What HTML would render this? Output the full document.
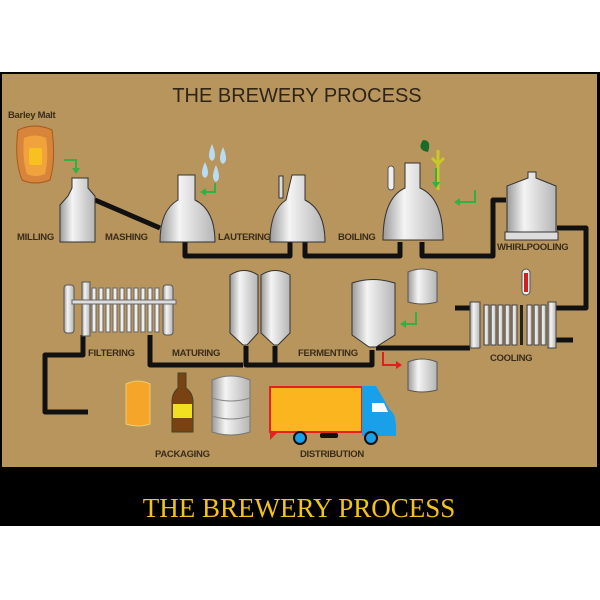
<!DOCTYPE html>
<html><head><meta charset="utf-8"><style>
html,body{margin:0;padding:0;background:#fff;width:600px;height:600px;overflow:hidden}
svg{display:block}
.l{font-family:"Liberation Sans",sans-serif;font-weight:bold;font-size:9.5px;fill:#3a2c1c;letter-spacing:-0.3px}
</style></head><body>
<svg width="600" height="600" viewBox="0 0 600 600" xmlns="http://www.w3.org/2000/svg">
<defs>
<linearGradient id="m" x1="0" x2="1"><stop offset="0" stop-color="#9a9a9a"/><stop offset="0.35" stop-color="#f4f4f4"/><stop offset="1" stop-color="#b5b5b5"/></linearGradient>
</defs>
<rect x="0" y="72" width="600" height="396" fill="#000"/>
<rect x="2" y="74" width="595" height="393" fill="#b8955c"/>
<rect x="0" y="467" width="600" height="59" fill="#000"/>
<text x="299" y="517" text-anchor="middle" font-family="Liberation Serif,serif" font-size="27" fill="#f2c419">THE BREWERY PROCESS</text>
<text x="297" y="102" text-anchor="middle" font-family="Liberation Sans,sans-serif" font-size="20" fill="#2e2418">THE BREWERY PROCESS</text>

<g fill="none" stroke="#111" stroke-width="5" stroke-linejoin="round">
<path d="M95 200 L160 228"/>
<path d="M185 242 V256 H290 V242"/>
<path d="M305 242 V256 H400 V242"/>
<path d="M422 242 V256 H493 V200 H506"/>
<path d="M557 228 H586 V308 H556"/>
<path d="M470 308 H455"/>
<path d="M555 340 H573"/>
<path d="M470 348 H376"/>
<path d="M372 350 V365 H246 V346"/>
<path d="M275 346 V365"/>
<path d="M150 335 V365 H243"/>
<path d="M83 335 V355 H45 V412 H88"/>
</g>

<text x="8" y="118" class="l" font-size="9">Barley Malt</text>
<path d="M18 130 Q14 160 22 180 Q35 186 50 180 Q56 160 52 130 Q35 122 18 130Z" fill="#d8843a" stroke="#a65a20"/>
<path d="M24 138 Q22 160 27 174 Q35 178 45 174 Q49 158 46 138 Q35 133 24 138Z" fill="#f0a23c"/>
<rect x="29" y="148" width="13" height="17" rx="2" fill="#f8c020"/>
<path d="M64 160 H76 V170" fill="none" stroke="#33b040" stroke-width="2"/><path d="M72 168 L76 174 L80 168Z" fill="#33b040"/>

<path d="M72 178 H88 V188 L95 196 V242 H60 V205 L68 196 L72 188Z" fill="url(#m)" stroke="#333"/>
<text x="17" y="240" class="l">MILLING</text>
<text x="105" y="240" class="l">MASHING</text>
<path d="M178 175 H195 V200 Q215 210 215 242 H160 Q160 210 178 200Z" fill="url(#m)" stroke="#333"/>
<path d="M212 144 Q206 158 212 161 Q218 158 212 144Z M223 147 Q217 161 223 164 Q229 161 223 147Z M205 162 Q199 175 205 178 Q211 175 205 162Z M216 165 Q210 179 216 182 Q222 179 216 165Z" fill="#b8dcf2"/>
<path d="M215 183 V192 H204" fill="none" stroke="#33b040" stroke-width="2"/><path d="M206 188 L200 192 L206 196Z" fill="#33b040"/>
<text x="218" y="240" class="l">LAUTERING</text>
<rect x="279" y="176" width="4" height="22" fill="#ddd" stroke="#333"/>
<path d="M292 175 H305 V200 Q325 210 325 242 H270 Q270 210 286 200Z" fill="url(#m)" stroke="#333"/>
<text x="338" y="240" class="l">BOILING</text>
<rect x="388" y="166" width="6" height="24" rx="3" fill="#eee" stroke="#555"/>
<path d="M405 163 H420 V188 Q443 198 443 240 H383 Q383 198 405 188Z" fill="url(#m)" stroke="#333"/>
<path d="M423 140 Q416 150 428 152 Q432 140 423 140Z" fill="#1a6a2a"/>
<path d="M438 150 V190 M432 158 L438 164 L444 158" stroke="#c8c828" stroke-width="3" fill="none"/>
<path d="M436 168 V182" stroke="#33b040" stroke-width="2"/><path d="M432 182 L436 188 L440 182Z" fill="#33b040"/>
<path d="M475 190 V202 H458" fill="none" stroke="#33b040" stroke-width="2"/><path d="M460 198 L454 202 L460 206Z" fill="#33b040"/>
<path d="M528 172 H536 V178 L556 186 V232 H507 V186 L528 178Z" fill="url(#m)" stroke="#333"/>
<rect x="505" y="232" width="53" height="8" fill="#ddd" stroke="#333"/>
<text x="497" y="250" class="l">WHIRLPOOLING</text>

<rect x="522" y="269" width="8" height="26" rx="4" fill="#eee" stroke="#555"/><rect x="524" y="273" width="4" height="19" fill="#d02020"/>
<rect x="470" y="302" width="10" height="46" fill="url(#m)" stroke="#444"/>
<g fill="url(#m)" stroke="#444"><rect x="484" y="305" width="5" height="40"/><rect x="491" y="305" width="5" height="40"/><rect x="498" y="305" width="5" height="40"/><rect x="505" y="305" width="5" height="40"/><rect x="512" y="305" width="5" height="40"/><rect x="527" y="305" width="5" height="40"/><rect x="534" y="305" width="5" height="40"/><rect x="541" y="305" width="5" height="40"/></g>
<rect x="548" y="302" width="8" height="46" fill="url(#m)" stroke="#444"/>
<rect x="520" y="305" width="3" height="40" fill="#222"/>
<text x="490" y="361" class="l">COOLING</text>

<path d="M352 283 Q373 276 395 283 V335 L376 347 H369 L352 335Z" fill="url(#m)" stroke="#333"/>
<path d="M408 272 Q422 266 437 272 V302 Q422 306 408 302Z" fill="url(#m)" stroke="#555"/>
<path d="M408 362 Q422 356 437 362 V390 Q422 394 408 390Z" fill="url(#m)" stroke="#555"/>
<path d="M416 312 V324 H404" fill="none" stroke="#33b040" stroke-width="2"/><path d="M406 320 L400 324 L406 328Z" fill="#33b040"/>
<path d="M383 352 V365 H398" fill="none" stroke="#e02020" stroke-width="2"/><path d="M396 361 L402 365 L396 369Z" fill="#e02020"/>
<text x="298" y="356" class="l">FERMENTING</text>

<path d="M230 275 Q244 266 258 275 V333 L247 345 H243 L230 333Z" fill="url(#m)" stroke="#333"/>
<path d="M261 275 Q275 266 290 275 V333 L278 345 H274 L261 333Z" fill="url(#m)" stroke="#333"/>
<text x="172" y="356" class="l">MATURING</text>

<rect x="64" y="285" width="10" height="48" rx="3" fill="url(#m)" stroke="#555"/>
<rect x="82" y="282" width="8" height="54" fill="url(#m)" stroke="#555"/>
<g fill="#eee" stroke="#666"><rect x="92" y="288" width="4" height="44"/><rect x="99" y="288" width="4" height="44"/><rect x="106" y="288" width="4" height="44"/><rect x="113" y="288" width="4" height="44"/><rect x="120" y="288" width="4" height="44"/><rect x="127" y="288" width="4" height="44"/><rect x="134" y="288" width="4" height="44"/><rect x="141" y="288" width="4" height="44"/><rect x="148" y="288" width="4" height="44"/><rect x="155" y="288" width="4" height="44"/></g>
<rect x="163" y="285" width="10" height="50" rx="3" fill="url(#m)" stroke="#555"/>
<rect x="72" y="300" width="104" height="4" fill="#ddd" stroke="#666"/>
<text x="88" y="356" class="l">FILTERING</text>

<path d="M126 384 Q138 378 150 384 V424 Q138 428 126 424Z" fill="#f5a52a" stroke="#e8d070"/>
<path d="M178 373 H186 V388 Q193 393 193 402 V432 H172 V402 Q172 393 178 388Z" fill="#7a4212" stroke="#442"/>
<rect x="173" y="404" width="19" height="14" fill="#f0e020"/>
<path d="M212 380 Q231 372 250 380 V432 Q231 438 212 432Z" fill="url(#m)" stroke="#777"/>
<path d="M212 398 Q231 404 250 398 M212 416 Q231 422 250 416" fill="none" stroke="#888"/>
<text x="155" y="457" class="l">PACKAGING</text>

<rect x="270" y="387" width="92" height="45" fill="#fbb51e" stroke="#e02424" stroke-width="2"/>
<path d="M270 432 L270 440 L278 432Z" fill="#e02424"/>
<path d="M362 386 H376 L390 410 Q396 414 396 428 V436 H362Z" fill="#1aa0e8"/>
<path d="M372 403 H384 L388 412 H372Z" fill="#fff"/>
<rect x="320" y="433" width="18" height="5" rx="2" fill="#111"/>
<circle cx="300" cy="438" r="6" fill="#1aa0e8" stroke="#111" stroke-width="2"/>
<circle cx="371" cy="438" r="6" fill="#1aa0e8" stroke="#111" stroke-width="2"/>
<text x="300" y="457" class="l">DISTRIBUTION</text>
</svg>
</body></html>
